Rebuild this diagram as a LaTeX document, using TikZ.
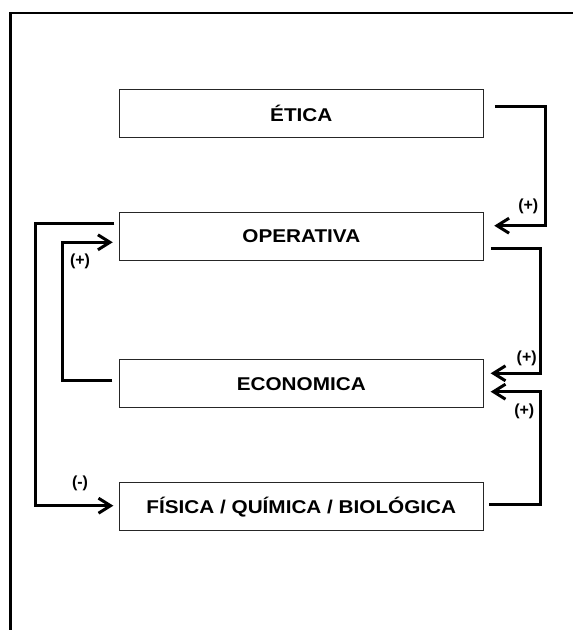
\documentclass[tikz,border=0pt]{standalone}
\usepackage{fontspec}
\setmainfont{Liberation Sans}
\newfontfamily\boxfont[FakeStretch=1.12]{Liberation Sans}
\usetikzlibrary{arrows.meta,calc}
\begin{document}
\begin{tikzpicture}[x=1pt,y=-1pt,
  box/.style={draw=black!85, line width=1.3pt, minimum width=364pt, minimum height=48pt,
    inner sep=0pt, font=\boxfont\fontsize{18.5}{20}\selectfont\bfseries},
  conn/.style={line width=3pt, line join=miter,
    -{Straight Barb[length=12pt,width=15pt,line width=3pt]}},
  lbl/.style={inner sep=0pt, font=\fontsize{16}{18}\selectfont\bfseries}]
\useasboundingbox (0,0) rectangle (573,630);
% frame
\draw[line width=2.5pt] (10.5,630) -- (10.5,12.8) -- (573,12.8);
% boxes
\node[box] (etica)     at (301.3,113.8)  {ÉTICA};
\node[box] (operativa) at (301.3,236.35) {OPERATIVA};
\node[box] (economica) at (301.3,383.65) {ECONOMICA};
\node[box] (fisica)    at (301.3,506.75) {FÍSICA / QUÍMICA / BIOLÓGICA};
% connectors
\draw[conn] ($(etica.east)+(11,-7.8)$) -- ++(51,0) |- ($(operativa.east)+(10.3,-10.65)$);
\draw[conn] ($(operativa.east)+(7,11.95)$) -- ++(50,0) |- ($(economica.east)+(6.7,-10.35)$);
\draw[conn] ($(fisica.east)+(5.3,-2.45)$) -- ++(51.2,0) |- ($(economica.east)+(6.7,8.05)$);
\draw[conn] ($(economica.west)+(-6.3,-2.95)$) -- ++(-50,0) |- ($(operativa.west)+(-5.9,5.95)$);
\draw[conn] ($(operativa.west)+(-4.3,-13.05)$) -- ++(-78.6,0) |- ($(fisica.west)+(-5.3,-1.05)$);
% labels
\node[lbl] (l1) at (528.3,206.7) {(+)};
\node[lbl] (l2) at (526.7,358.3) {(+)};
\node[lbl] (l3) at (524.3,411.7) {(+)};
\node[lbl] (l4) at (80,261.7) {(+)};
\node[lbl] (l5) at (80,483.3) {(-)};
\end{tikzpicture}
\end{document}
